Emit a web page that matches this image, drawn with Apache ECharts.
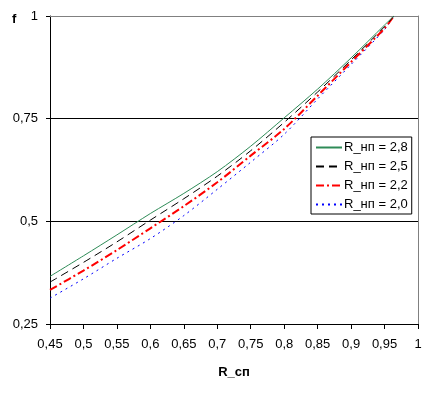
<!DOCTYPE html>
<html><head><meta charset="utf-8">
<script src="https://cdn.jsdelivr.net/npm/echarts@6/dist/echarts.min.js"></script>
<style>html,body{margin:0;padding:0;background:#fff}#c{width:435px;height:393px}</style>
</head><body><div id="c"></div>
<script>
var rValues = [0.45, 0.5, 0.55, 0.6, 0.65, 0.7, 0.75, 0.8, 0.85, 0.9, 0.95, 0.964];
var seriesNames = ['R_нп = 2,8', 'R_нп = 2,5', 'R_нп = 2,2', 'R_нп = 2,0'];
var f28 = [0.366, 0.416, 0.467, 0.519, 0.568, 0.621, 0.683, 0.752, 0.822, 0.898, 0.978, 1.0];
var f25 = [0.352, 0.400, 0.450, 0.503, 0.555, 0.610, 0.672, 0.741, 0.815, 0.893, 0.974, 1.0];
var f22 = [0.333, 0.380, 0.430, 0.483, 0.537, 0.595, 0.660, 0.725, 0.806, 0.888, 0.970, 1.0];
var f20 = [0.313, 0.360, 0.410, 0.458, 0.514, 0.578, 0.644, 0.712, 0.798, 0.882, 0.967, 1.0];
var xTicks = {min: 0.45, max: 1, interval: 0.05};
var yTicks = {min: 0.25, max: 1, interval: 0.25};

function pairs(ys){ return rValues.map(function(x,i){ return [x, ys[i]]; }); }
function fmt(v){ var s = (Math.round(v*100)/100).toString(); return s.replace('.', ','); }

var font = 'Liberation Sans, Arial, sans-serif';
var chart = echarts.init(document.getElementById('c'));
var styles = [
  {color:'#2e8b57', width:1, type:'solid'},
  {color:'#000000', width:1, type:[8,5]},
  {color:'#ff0000', width:2, type:[8,3,2,3]},
  {color:'#0000ff', width:1, type:[2,4]}
];
var dataSets = [f28, f25, f22, f20];
chart.setOption({
  animation:false,
  backgroundColor:'#fff',
  textStyle:{fontFamily:font},
  grid:{left:50, right:17, top:16, bottom:69, containLabel:false},
  legend:{
    orient:'vertical', left:311, top:137, width:100,
    padding:[4,4,3,4], itemGap:6, itemWidth:26, itemHeight:13,
    borderColor:'#000', borderWidth:1, backgroundColor:'#fff',
    itemStyle:{opacity:0},
    textStyle:{fontFamily:font, fontSize:13, color:'#000', padding:[0,0,0,-3]},
    data:seriesNames
  },
  xAxis:[{
    type:'value', min:xTicks.min, max:xTicks.max, interval:xTicks.interval,
    name:'R_сп', nameLocation:'middle', nameGap:42,
    nameTextStyle:{fontFamily:font, fontSize:13, fontWeight:'bold', color:'#000'},
    axisLine:{show:true, lineStyle:{color:'#000', width:1}},
    axisTick:{show:true, length:5, lineStyle:{color:'#000'}},
    axisLabel:{formatter:fmt, fontFamily:font, fontSize:13, color:'#000', margin:14},
    splitLine:{show:false}
  },{
    type:'value', position:'top', min:xTicks.min, max:xTicks.max,
    axisLine:{show:true, lineStyle:{color:'#808080'}}, axisTick:{show:false}, axisLabel:{show:false}, splitLine:{show:false}
  }],
  yAxis:[{
    type:'value', min:yTicks.min, max:yTicks.max, interval:yTicks.interval,
    name:'f', nameLocation:'end', nameGap:0,
    nameTextStyle:{fontFamily:font, fontSize:13, fontWeight:'bold', color:'#000', align:'left', padding:[0,0,-10,-38]},
    axisLine:{show:true, lineStyle:{color:'#000', width:1}},
    axisTick:{show:true, length:4, lineStyle:{color:'#000'}},
    axisLabel:{formatter:fmt, fontFamily:font, fontSize:13, color:'#000', margin:12},
    splitLine:{show:true, lineStyle:{color:['#000','#000','#000','#808080'], width:1}}
  },{
    type:'value', position:'right', min:yTicks.min, max:yTicks.max,
    axisLine:{show:true, lineStyle:{color:'#808080'}}, axisTick:{show:false}, axisLabel:{show:false}, splitLine:{show:false}
  }],
  series: dataSets.map(function(d,i){
    return {
      name:seriesNames[i], type:'line', smooth:0.3, showSymbol:false, symbol:'none',
      data:pairs(d), color:styles[i].color,
      lineStyle:{color:styles[i].color, width:styles[i].width, type:styles[i].type},
      z: 10 - i
    };
  })
});
</script></body></html>
